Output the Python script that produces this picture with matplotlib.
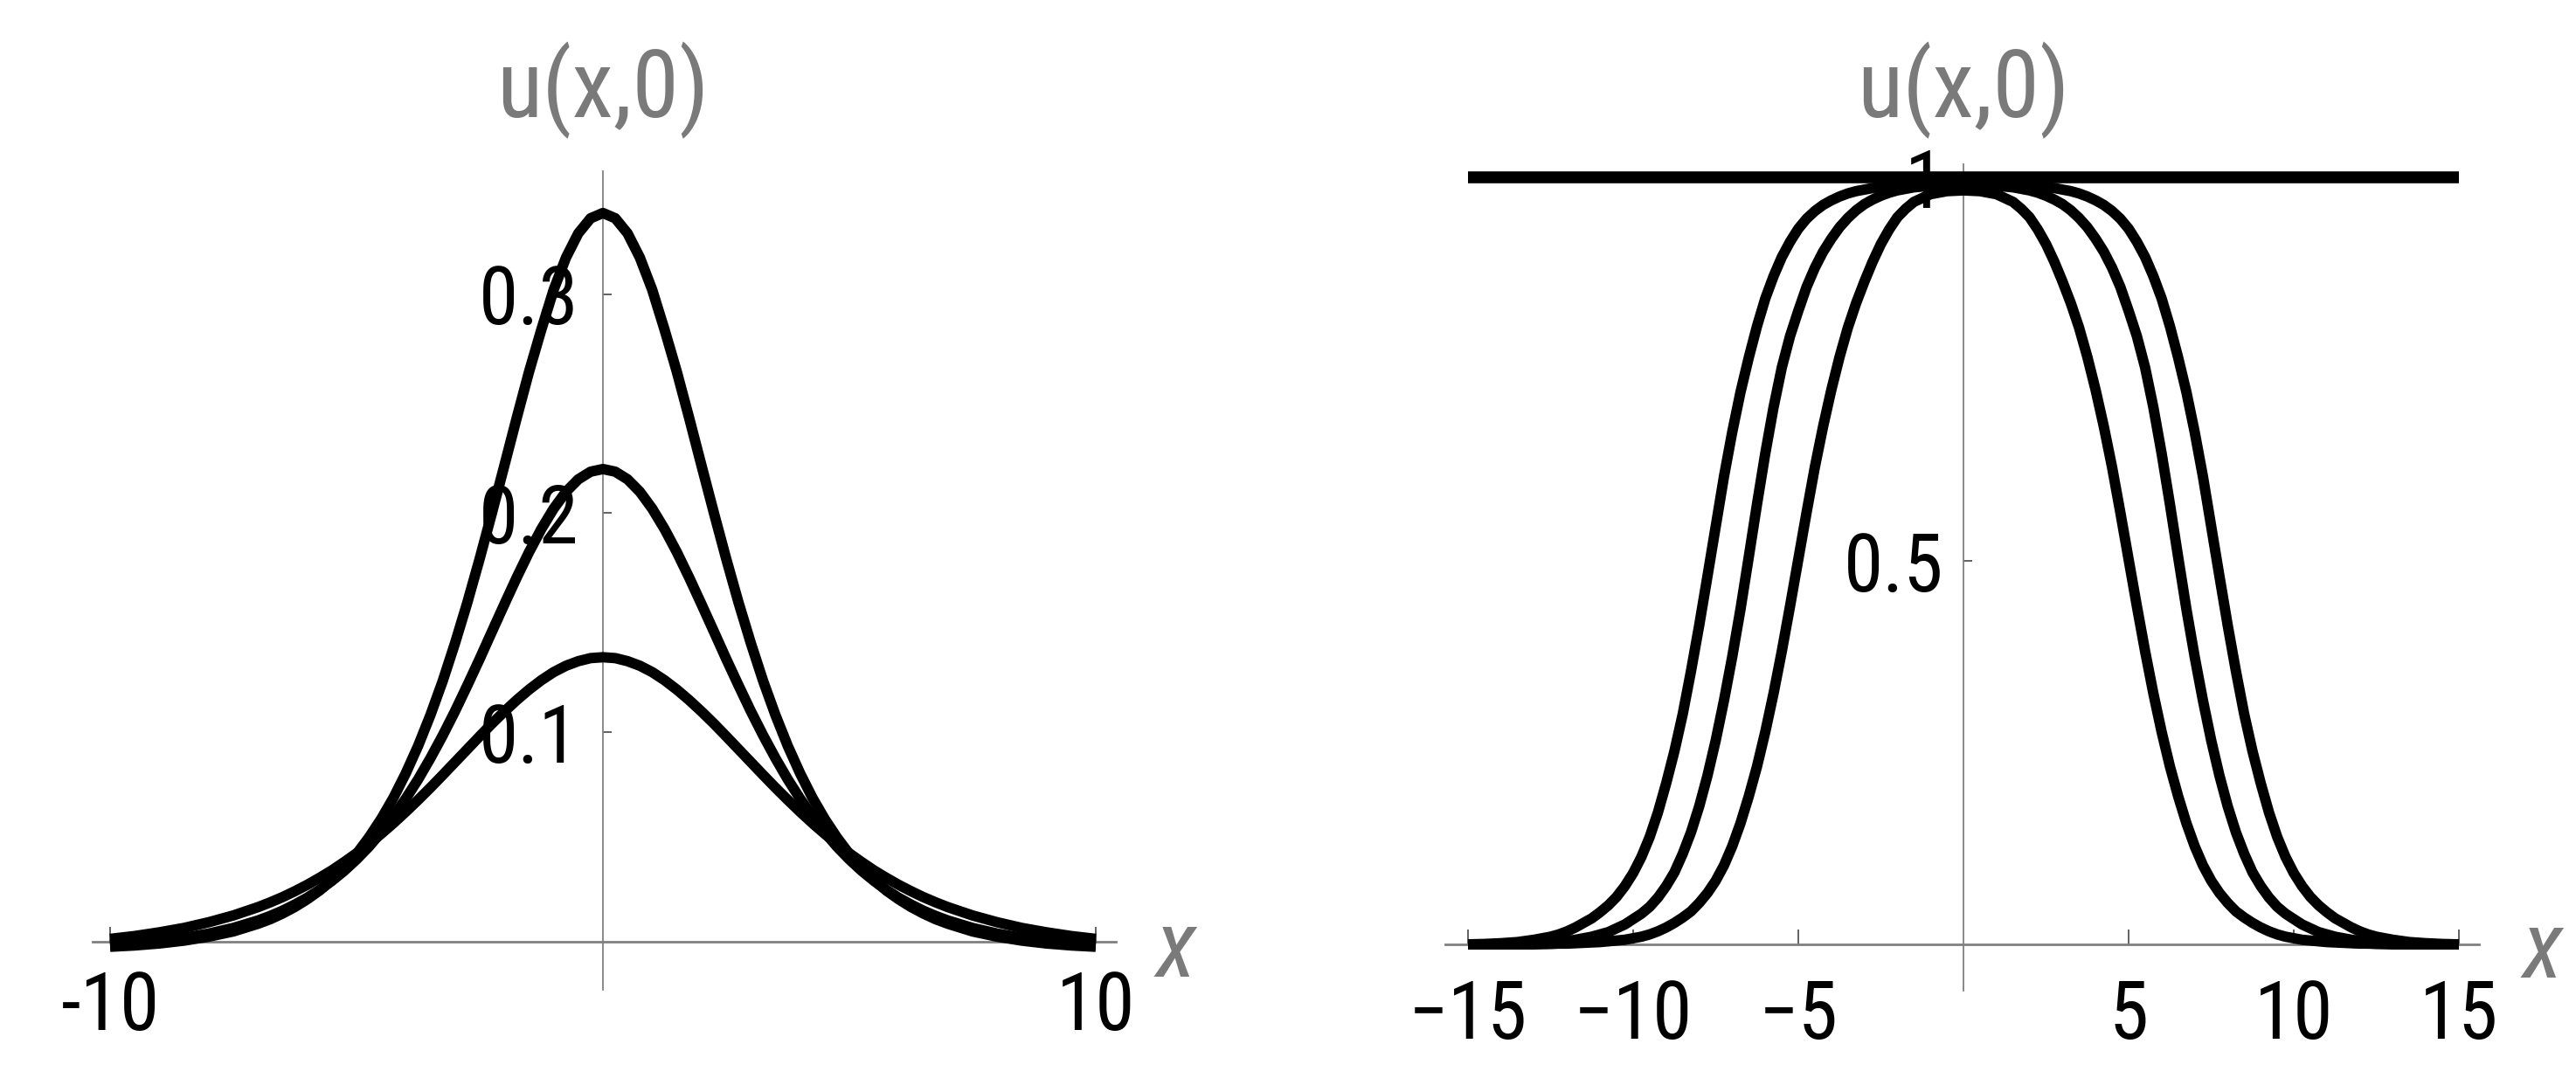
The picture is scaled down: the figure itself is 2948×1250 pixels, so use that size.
import matplotlib
matplotlib.use("Agg")
import matplotlib.pyplot as plt

plt.rcParams['font.family'] = ['Roboto Condensed', 'Liberation Sans', 'DejaVu Sans']

# ---- left panel: three bell-shaped profiles u(x,0) ----
# the profiles are symmetric about x = 0; values read on the right half
xh_left = [0, 0.25, 0.5, 0.75, 1, 1.25, 1.5, 1.75, 2, 2.25, 2.5, 2.75, 3, 3.25, 3.5, 3.75,
           4, 4.25, 4.5, 4.75, 5, 5.25, 5.5, 5.75, 6, 6.25, 6.5, 6.75, 7,
           7.5, 8, 8.5, 9, 9.5, 10]
uh_tall = [0.337, 0.3346, 0.3277, 0.3166, 0.3019, 0.2837, 0.2644, 0.2433, 0.2216, 0.2001, 0.1791, 0.1591,
           0.1405, 0.1232, 0.1076, 0.0935, 0.0810, 0.0698, 0.0601, 0.0516, 0.0441, 0.0377, 0.0322, 0.0274,
           0.0234, 0.0199, 0.0169, 0.0143, 0.0122, 0.0087, 0.0063, 0.0045, 0.0032, 0.0023, 0.0017]
uh_mid = [0.220, 0.2188, 0.2153, 0.2096, 0.2019, 0.1926, 0.1820, 0.1704, 0.1582, 0.1458, 0.1333, 0.1212,
          0.1094, 0.0983, 0.0879, 0.0782, 0.0694, 0.0613, 0.0540, 0.0474, 0.0416, 0.0364, 0.0318, 0.0277,
          0.0241, 0.0210, 0.0182, 0.0158, 0.0137, 0.0103, 0.0077, 0.0058, 0.0043, 0.0032, 0.0024]
uh_low = [0.134, 0.1336, 0.1322, 0.1301, 0.1272, 0.1235, 0.1192, 0.1144, 0.1092, 0.1037, 0.0979, 0.0920,
          0.0861, 0.0802, 0.0744, 0.0688, 0.0634, 0.0582, 0.0533, 0.0487, 0.0444, 0.0404, 0.0366, 0.0332,
          0.0300, 0.0271, 0.0244, 0.0220, 0.0198, 0.0160, 0.0129, 0.0103, 0.0083, 0.0066, 0.0053]

# ---- right panel: flat-topped profiles plus the constant state u = 1 ----
xh_right = [0, 0.5, 1, 1.5, 1.75, 2, 2.25, 2.5, 2.75, 3, 3.25, 3.5, 3.75, 4, 4.25, 4.5, 4.75,
            5, 5.25, 5.5, 5.75, 6, 6.25, 6.5, 6.75, 7, 7.25, 7.5, 7.75, 8, 8.25, 8.5, 8.75,
            9, 9.25, 9.5, 9.75, 10, 10.25, 10.5, 10.75, 11, 11.25, 11.5, 11.75, 12, 12.25, 12.5,
            13, 13.5, 14, 14.5, 15]
uh_inner = [0.983, 0.982, 0.978, 0.968, 0.959, 0.948, 0.932, 0.913, 0.890, 0.864, 0.836, 0.804, 0.766,
            0.723, 0.675, 0.622, 0.563, 0.502, 0.441, 0.382, 0.327, 0.277, 0.232, 0.193, 0.158, 0.128,
            0.103, 0.083, 0.067, 0.054, 0.043, 0.035, 0.028, 0.022, 0.017, 0.013, 0.010, 0.008, 0.006,
            0.005, 0.004, 0.003, 0.0025, 0.002, 0.0015, 0.001, 0.001, 0.0005,
            0, 0, 0, 0, 0]
uh_middle = [0.990, 0.990, 0.989, 0.987, 0.985, 0.983, 0.980, 0.976, 0.971, 0.965, 0.957, 0.947, 0.935,
             0.920, 0.903, 0.882, 0.857, 0.826, 0.793, 0.752, 0.700, 0.640, 0.574, 0.505, 0.437, 0.375,
             0.318, 0.266, 0.220, 0.180, 0.146, 0.118, 0.094, 0.076, 0.061, 0.049, 0.040, 0.033, 0.026,
             0.021, 0.016, 0.013, 0.010, 0.008, 0.006, 0.0045, 0.0035, 0.0025,
             0.001, 0.0005, 0, 0, 0]
uh_outer = [0.993, 0.993, 0.993, 0.992, 0.991, 0.990, 0.989, 0.988, 0.986, 0.984, 0.982, 0.979, 0.975,
            0.970, 0.964, 0.956, 0.946, 0.933, 0.916, 0.896, 0.871, 0.842, 0.806, 0.765, 0.720, 0.668,
            0.610, 0.545, 0.480, 0.416, 0.356, 0.300, 0.252, 0.210, 0.172, 0.140, 0.114, 0.093, 0.076,
            0.062, 0.051, 0.042, 0.034, 0.028, 0.022, 0.017, 0.013, 0.010,
            0.006, 0.003, 0.0015, 0.0005, 0]
x_const = [-15, 15]
u_const = [1, 1]

left_xticks = [-10, 10]
left_xlabels = ['-10', '10']
left_yticks = [0.1, 0.2, 0.3]
left_ylabels = ['0.1', '0.2', '0.3']
right_xticks = [-15, -10, -5, 5, 10, 15]
right_xlabels = ['\u221215', '\u221210', '\u22125', '5', '10', '15']
right_yticks = [0.5, 1]
right_ylabels = ['0.5', '1']

W, H = 2948, 1250
AX_GRAY = '#808080'
LAB_GRAY = '#7a7a7a'


def mirror(xh, uh):
    # rebuild the full symmetric profile from the right half
    x = [-v for v in reversed(xh[1:])] + list(xh)
    u = list(reversed(uh[1:])) + list(uh)
    return x, u


def setup_axes(ax, x_origin_px, x_unit_px, y_origin_px, y_unit_px, box_x0, box_x1):
    # map a pixel box of the figure onto data limits
    ax.set_position([box_x0 / W, 0, (box_x1 - box_x0) / W, 1])
    ax.set_xlim((box_x0 - x_origin_px) / x_unit_px, (box_x1 - x_origin_px) / x_unit_px)
    ax.set_ylim((y_origin_px - H) / y_unit_px, y_origin_px / y_unit_px)
    ax.set_axisbelow(True)
    for s in ['top', 'right']:
        ax.spines[s].set_visible(False)
    ax.spines['left'].set_position(('data', 0))
    ax.spines['left'].set_color(AX_GRAY)
    ax.spines['left'].set_linewidth(1.3)
    ax.spines['left'].set_zorder(1)
    ax.spines['bottom'].set_color(AX_GRAY)
    ax.spines['bottom'].set_linewidth(2)
    ax.spines['bottom'].set_zorder(1)
    ax.patch.set_visible(False)


fig = plt.figure(figsize=(W / 100, H / 100), dpi=100)

# left panel
ax1 = fig.add_axes([0, 0, 1, 1])
setup_axes(ax1, 690, 56.4, 1088, 2505, 20, 1400)
ax1.spines['bottom'].set_position(('data', 0.004))
ax1.spines['bottom'].set_bounds(-10.35, 10.4)
ax1.spines['left'].set_bounds(-0.018, 0.356)
for uh in [uh_tall, uh_mid, uh_low]:
    x, u = mirror(xh_left, uh)
    ax1.plot(x, u, color='black', lw=8.6, solid_capstyle='butt', zorder=3)
ax1.set_xticks(left_xticks, left_xlabels)
ax1.set_yticks(left_yticks, left_ylabels)
ax1.tick_params(axis='x', direction='in', length=12, width=1.3, color='#555555',
                pad=22, labelsize=66)
ax1.tick_params(axis='y', direction='in', length=7, width=1.3, color='#555555',
                pad=20, labelsize=66)
ax1.text(0, 0.393, 'u(x,0)', ha='center', va='center', fontsize=78, color=LAB_GRAY)
ax1.text(11.63, 0.0, 'x', ha='center', va='center', fontsize=78, color=LAB_GRAY,
         style='italic')

# right panel
ax2 = fig.add_axes([0, 0, 1, 1])
setup_axes(ax2, 2247, 37.8, 1081, 878, 1500, 2948)
ax2.spines['bottom'].set_position(('data', 0))
ax2.spines['bottom'].set_bounds(-15.7, 15.6)
ax2.spines['left'].set_bounds(-0.06, 1.017)
for uh in [uh_inner, uh_middle, uh_outer]:
    x, u = mirror(xh_right, uh)
    ax2.plot(x, u, color='black', lw=8.6, solid_capstyle='butt', zorder=3)
ax2.plot(x_const, u_const, color='black', lw=9.8, solid_capstyle='butt', zorder=3)
ax2.set_xticks(right_xticks, right_xlabels)
ax2.set_yticks(right_yticks, right_ylabels)
ax2.tick_params(axis='x', direction='in', length=12, width=1.3, color='#555555',
                pad=27, labelsize=66)
ax2.tick_params(axis='y', direction='in', length=7, width=1.3, color='#555555',
                pad=16, labelsize=66)
ax2.text(0, 1.114, 'u(x,0)', ha='center', va='center', fontsize=78, color=LAB_GRAY)
ax2.text(17.54, -0.01, 'x', ha='center', va='center', fontsize=78, color=LAB_GRAY,
         style='italic')

fig.savefig('out.png', dpi=100)
